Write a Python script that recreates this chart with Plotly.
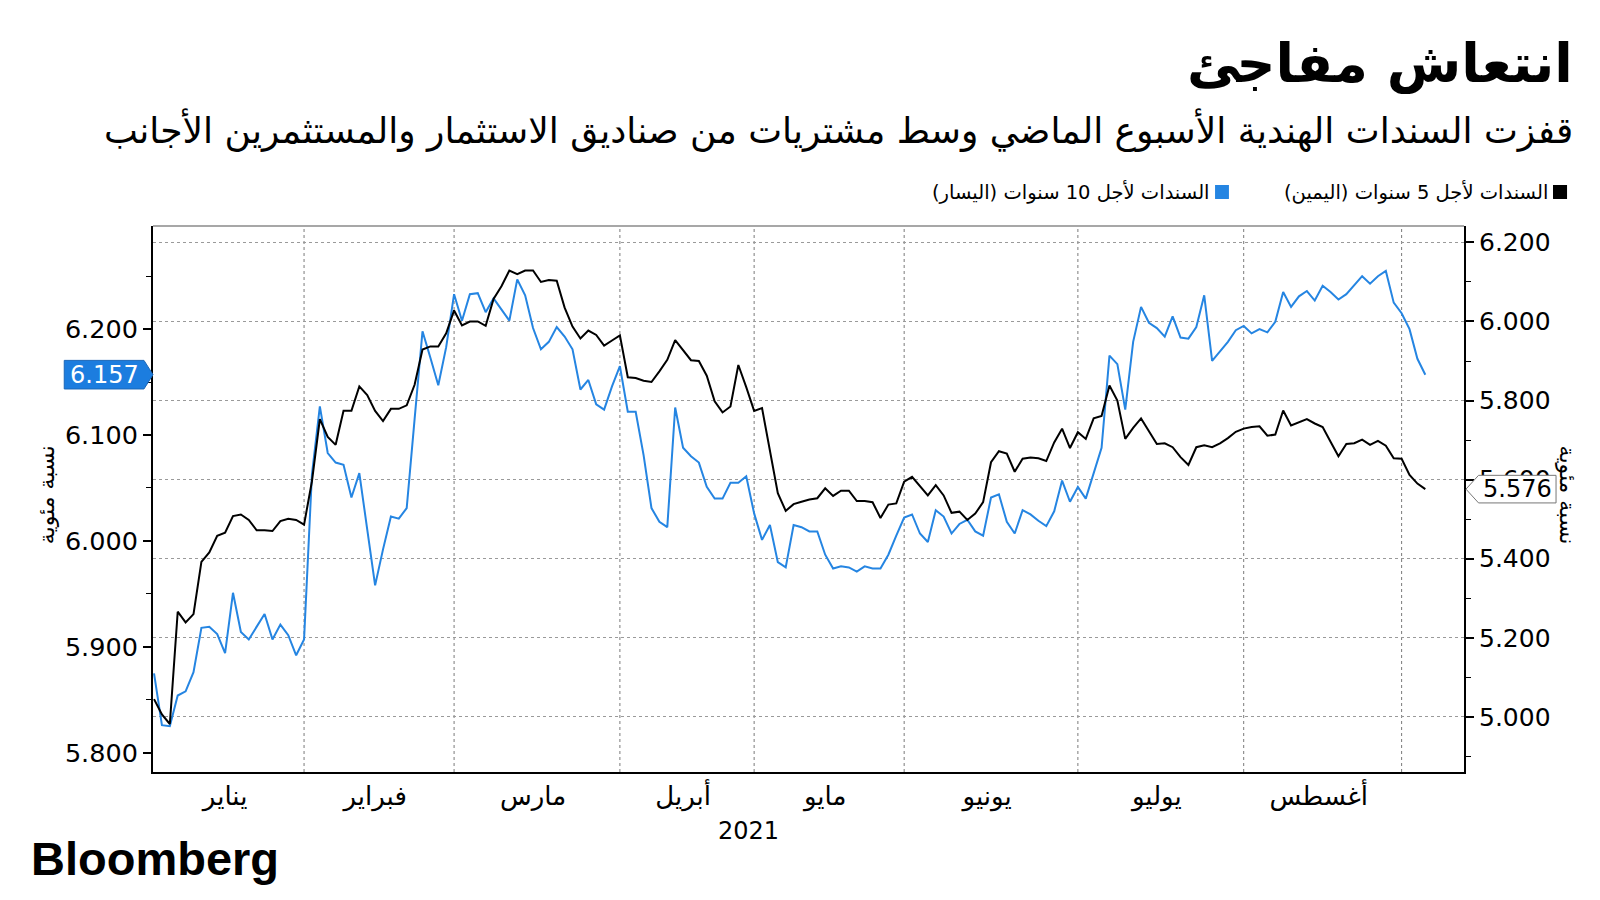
import plotly.graph_objects as go
import numpy as np

# ---------------- data ----------------
months = ["يناير", "فبراير", "مارس", "أبريل", "مايو", "يونيو", "يوليو", "أغسطس", "سبتمبر"]
# trading days shown per month (Jan .. Sep)
month_days = [19, 19, 21, 17, 19, 22, 21, 20, 4]

# 5-year yield (right axis)
yield_5y = [
    5.045, 5.006, 4.982, 5.266, 5.239, 5.260, 5.392, 5.416, 5.458, 5.466, 5.508, 5.512, 5.498, 5.472, 5.472, 5.470, 5.495, 5.501, 5.498,
    5.486, 5.596, 5.753, 5.708, 5.688, 5.774, 5.774, 5.836, 5.814, 5.774, 5.748, 5.779, 5.779, 5.788, 5.840, 5.929, 5.937, 5.937, 5.970,
    6.028, 5.990, 6.000, 6.000, 5.989, 6.057, 6.089, 6.129, 6.120, 6.129, 6.129, 6.100, 6.105, 6.103, 6.035, 5.987, 5.957, 5.977, 5.966, 5.939, 5.952,
    5.965, 5.859, 5.857, 5.850, 5.847, 5.874, 5.903, 5.953, 5.928, 5.902, 5.900, 5.863, 5.798, 5.770, 5.785, 5.890, 5.834,
    5.774, 5.781, 5.675, 5.566, 5.521, 5.538, 5.544, 5.550, 5.553, 5.578, 5.559, 5.572, 5.572, 5.546, 5.546, 5.543, 5.503, 5.537, 5.540,
    5.595, 5.607, 5.583, 5.560, 5.586, 5.560, 5.516, 5.519, 5.498, 5.514, 5.543, 5.644, 5.672, 5.666, 5.620, 5.653, 5.656, 5.654, 5.647, 5.694, 5.729, 5.680,
    5.720, 5.703, 5.755, 5.761, 5.838, 5.800, 5.703, 5.731, 5.755, 5.722, 5.690, 5.692, 5.682, 5.657, 5.637, 5.682, 5.687, 5.682, 5.692, 5.705, 5.721,
    5.729, 5.733, 5.735, 5.711, 5.714, 5.775, 5.737, 5.744, 5.753, 5.742, 5.733, 5.696, 5.659, 5.690, 5.692, 5.701, 5.688, 5.698, 5.686, 5.654,
    5.653, 5.612, 5.590, 5.576,
]

# 10-year yield (left axis)
yield_10y = [
    5.875, 5.826, 5.825, 5.854, 5.858, 5.876, 5.918, 5.919, 5.912, 5.894, 5.951, 5.914, 5.907, 5.919, 5.931, 5.907, 5.921, 5.911, 5.892,
    5.907, 6.063, 6.127, 6.083, 6.074, 6.072, 6.041, 6.064, 6.011, 5.958, 5.992, 6.023, 6.021, 6.031, 6.115, 6.198, 6.173, 6.147, 6.183,
    6.233, 6.208, 6.233, 6.234, 6.216, 6.229, 6.218, 6.208, 6.247, 6.232, 6.201, 6.181, 6.188, 6.202, 6.193, 6.181, 6.143, 6.152, 6.129, 6.124, 6.146,
    6.165, 6.122, 6.122, 6.081, 6.031, 6.018, 6.013, 6.126, 6.088, 6.080, 6.074, 6.051, 6.040, 6.040, 6.055, 6.055, 6.061,
    6.026, 6.001, 6.015, 5.980, 5.975, 6.015, 6.013, 6.009, 6.009, 5.987, 5.974, 5.976, 5.975, 5.971, 5.976, 5.974, 5.974, 5.987, 6.005,
    6.022, 6.025, 6.007, 5.999, 6.029, 6.023, 6.007, 6.016, 6.020, 6.009, 6.005, 6.041, 6.044, 6.018, 6.007, 6.029, 6.025, 6.019, 6.014, 6.028, 6.057, 6.037,
    6.051, 6.040, 6.065, 6.088, 6.175, 6.167, 6.124, 6.188, 6.221, 6.206, 6.201, 6.193, 6.212, 6.192, 6.191, 6.202, 6.232, 6.170, 6.179, 6.188, 6.199,
    6.203, 6.196, 6.200, 6.197, 6.207, 6.235, 6.221, 6.231, 6.236, 6.227, 6.241, 6.235, 6.228, 6.233, 6.242, 6.250, 6.243, 6.250, 6.255, 6.225,
    6.215, 6.200, 6.172, 6.157,
]

title = "انتعاش مفاجئ"
subtitle = "قفزت السندات الهندية الأسبوع الماضي وسط مشتريات من صناديق الاستثمار والمستثمرين الأجانب"
legend_5y = "\u200fالسندات لأجل 5 سنوات (اليمين)\u200f"
legend_10y = "\u200fالسندات لأجل 10 سنوات (اليسار)\u200f"
axis_title = "نسبة مئوية"
year_label = "2021"

# ---------------- styling ----------------
BLUE = "#2585e2"
BLUE_BOX = "#1c7ddf"
FONT = "DejaVu Sans"

x = np.arange(len(yield_5y))
starts = np.cumsum([0] + month_days[:-1])
mids = [s + (d - 1) / 2 for s, d in zip(starts, month_days)]

fig = go.Figure()
fig.add_trace(go.Scatter(x=x, y=yield_10y, mode="lines", line=dict(color=BLUE, width=2),
                         yaxis="y", hoverinfo="skip"))
fig.add_trace(go.Scatter(x=x, y=yield_5y, mode="lines", line=dict(color="black", width=2),
                         yaxis="y2", hoverinfo="skip"))

# month boundary gridlines
shapes = []
for s in starts[1:]:
    shapes.append(dict(type="line", xref="x", yref="paper", x0=s, x1=s, y0=0, y1=1,
                       line=dict(color="#7a7a7a", width=1, dash="dot"), layer="below"))
# top frame
shapes.append(dict(type="line", xref="paper", yref="paper", x0=0, x1=1, y0=1, y1=1,
                   line=dict(color="#8a8a8a", width=1.5)))

# last value labels
last10 = yield_10y[-1]
h1 = 0.0135
shapes.append(dict(type="path", xref="paper", yref="y",
                   path=f"M -0.0677,{last10 - h1} L -0.0069,{last10 - h1} L 0,{last10} "
                        f"L -0.0069,{last10 + h1} L -0.0677,{last10 + h1} Z",
                   fillcolor=BLUE_BOX, line=dict(color="#1a66b8", width=1), layer="above"))
last5 = yield_5y[-1]
h2 = 0.0349
shapes.append(dict(type="path", xref="paper", yref="y2",
                   path=f"M 1.0015,{last5} L 1.0111,{last5 + h2} L 1.0702,{last5 + h2} "
                        f"L 1.0702,{last5 - h2} L 1.0111,{last5 - h2} Z",
                   fillcolor="white", line=dict(color="#777777", width=1), layer="above"))

# legend squares
shapes.append(dict(type="rect", xref="paper", yref="paper", x0=1.0679, x1=1.0786, y0=1.0495, y1=1.0751,
                   fillcolor="black", line=dict(width=0)))
shapes.append(dict(type="rect", xref="paper", yref="paper", x0=0.8101, x1=0.8207, y0=1.0495, y1=1.0751,
                   fillcolor=BLUE, line=dict(width=0)))

annotations = [
    dict(text=f"<b>{title}</b>", xref="paper", yref="paper", x=1.0845, y=1.2985, xanchor="right",
         yanchor="middle", showarrow=False, font=dict(family=FONT, size=54, color="black")),
    dict(text=subtitle, xref="paper", yref="paper", x=1.0845, y=1.1766, xanchor="right",
         yanchor="middle", showarrow=False, font=dict(family=FONT, size=36, color="black")),
    dict(text=legend_5y, xref="paper", yref="paper", x=1.0656, y=1.0623, xanchor="right",
         yanchor="middle", showarrow=False, font=dict(family=FONT, size=19.5, color="black")),
    dict(text=legend_10y, xref="paper", yref="paper", x=0.8078, y=1.0623, xanchor="right",
         yanchor="middle", showarrow=False, font=dict(family=FONT, size=19.5, color="black")),
    dict(text=axis_title, xref="paper", yref="paper", x=-0.0816, y=0.507, textangle=-90,
         xanchor="center", yanchor="middle", showarrow=False, font=dict(family=FONT, size=22, color="black")),
    dict(text=axis_title, xref="paper", yref="paper", x=1.0790, y=0.507, textangle=90,
         xanchor="center", yanchor="middle", showarrow=False, font=dict(family=FONT, size=22, color="black")),
    dict(text=year_label, xref="paper", yref="paper", x=0.4546, y=-0.1073, xanchor="center",
         yanchor="middle", showarrow=False, font=dict(family=FONT, size=24, color="black")),
    dict(text="<b>Bloomberg</b>", xref="paper", yref="paper", x=-0.0945, y=-0.1593, xanchor="left",
         yanchor="middle", showarrow=False, font=dict(family="Liberation Sans", size=47, color="black")),
    dict(text=f"{last10:.3f}", xref="paper", yref="y", x=-0.0373, y=last10, xanchor="center",
         yanchor="middle", showarrow=False, font=dict(family=FONT, size=24, color="white")),
    dict(text=f"{last5:.3f}", xref="paper", yref="y2", x=1.0407, y=last5, xanchor="center",
         yanchor="middle", showarrow=False, font=dict(family=FONT, size=24, color="black")),
]

fig.update_layout(
    width=1600, height=900,
    margin=dict(l=153, r=136, t=226, b=128, autoexpand=False),
    paper_bgcolor="white", plot_bgcolor="white",
    showlegend=False,
    font=dict(family=FONT, color="black"),
    shapes=shapes,
    annotations=annotations,
    xaxis=dict(range=[-0.13, 165.9], tickmode="array", tickvals=mids[:8], ticktext=months[:8],
               ticks="", showgrid=False, zeroline=False, showline=True, linecolor="black",
               linewidth=2, tickfont=dict(family=FONT, size=26), ticklabelstandoff=0),
    yaxis=dict(range=[5.7818, 6.2974], tickmode="linear", tick0=5.8, dtick=0.1, tickformat=".3f",
               ticks="outside", ticklen=8, tickwidth=2, tickcolor="black", showline=True,
               linecolor="black", linewidth=2, showgrid=False, zeroline=False,
               tickfont=dict(family=FONT, size=25.5),
               minor=dict(dtick=0.05, tick0=5.8, ticks="outside", ticklen=5, tickwidth=1,
                          tickcolor="black", showgrid=False)),
    yaxis2=dict(overlaying="y", side="right", range=[4.8606, 6.2415], tickmode="linear", tick0=5.0,
                dtick=0.2, tickformat=".3f", ticks="outside", ticklen=8, tickwidth=2,
                tickcolor="black", showline=True, linecolor="black", linewidth=2,
                showgrid=True, gridcolor="#9a9a9a", griddash="dot", gridwidth=1, zeroline=False,
                tickfont=dict(family=FONT, size=25),
                minor=dict(dtick=0.1, tick0=5.0, ticks="outside", ticklen=5, tickwidth=1,
                           tickcolor="black", showgrid=False)),
)

fig.write_html("out.html")
